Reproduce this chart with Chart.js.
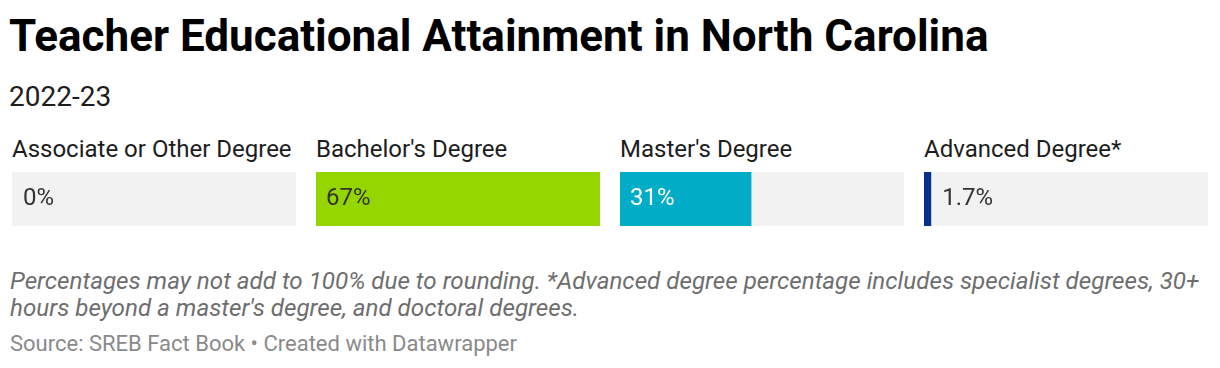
<!DOCTYPE html>
<html>
<head>
<meta charset="utf-8">
<script src="https://cdn.jsdelivr.net/npm/chart.js@4"></script>
<style>
  body { margin: 0; background: #fff; font-family: Roboto, sans-serif; width: 1220px; height: 368px; position: relative; overflow: hidden; }
  .title { position: absolute; left: 9px; top: 10px; font-size: 44px; font-weight: 700; color: #000; white-space: nowrap; }
  .sub { position: absolute; left: 9px; top: 80px; font-size: 28px; color: #1d1d1d; }
  .panel { position: absolute; top: 135px; width: 284px; }
  .panel .lbl { font-size: 24px; color: #1d1d1d; height: 37px; line-height: 28px; white-space: nowrap; }
  .panel canvas { display: block; }
  .notes { position: absolute; left: 10px; top: 268px; font-size: 24.2px; font-style: italic; color: #6e6e6e; line-height: 27px; width: 1208px; }
  .source { position: absolute; left: 10px; top: 331px; font-size: 22px; color: #8a8a8a; }
</style>
</head>
<body>
<div class="title">Teacher Educational Attainment in North Carolina</div>
<div class="sub">2022-23</div>
<div id="panels"></div>
<div class="notes">Percentages may not add to 100% due to rounding. *Advanced degree percentage includes specialist degrees, 30+ hours beyond a master's degree, and doctoral degrees.</div>
<div class="source">Source: SREB Fact Book • Created with Datawrapper</div>
<script>
// Data
const categories = ["Associate or Other Degree", "Bachelor's Degree", "Master's Degree", "Advanced Degree*"];
const values = [0, 67, 31, 1.7];
const valueLabels = ["0%", "67%", "31%", "1.7%"];
const barColors = ["#96d600", "#96d600", "#00acc6", "#05318a"];
const labelColors = ["#333333", "#333333", "#ffffff", "#333333"];

const trackMax = Math.max(...values);
const panelLeft = [12, 316, 620, 924];

// value label inside the bar if it fits, else just after it
const valueLabelPlugin = {
  id: "valueLabel",
  afterDatasetsDraw(chart) {
    const i = chart.options.plugins.valueLabel.index;
    const xs = chart.scales.x;
    const bar = chart.getDatasetMeta(0).data[0];
    const start = xs.getPixelForValue(0);
    const end = xs.getPixelForValue(values[i]);
    const ctx = chart.ctx;
    ctx.save();
    ctx.font = "24px Roboto";
    const tw = ctx.measureText(valueLabels[i]).width;
    let x, color;
    if (end - start > tw + 20) { x = start + 10; color = labelColors[i]; }
    else { x = end + 11; color = "#333333"; }
    ctx.fillStyle = color;
    ctx.textBaseline = "middle";
    ctx.fillText(valueLabels[i], x, bar.y);
    ctx.restore();
  }
};

const container = document.getElementById("panels");
categories.forEach((cat, i) => {
  const panel = document.createElement("div");
  panel.className = "panel";
  panel.style.left = panelLeft[i] + "px";
  const lbl = document.createElement("div");
  lbl.className = "lbl";
  lbl.textContent = cat;
  const canvas = document.createElement("canvas");
  canvas.width = 284;
  canvas.height = 54;
  panel.appendChild(lbl);
  panel.appendChild(canvas);
  container.appendChild(panel);

  new Chart(canvas.getContext("2d"), {
    type: "bar",
    data: {
      labels: [cat],
      datasets: [
        { data: [values[i]], backgroundColor: barColors[i], order: 0 },
        { data: [trackMax], backgroundColor: "#f2f2f2", order: 1 },
      ],
    },
    options: {
      indexAxis: "y",
      responsive: false,
      animation: false,
      devicePixelRatio: 1,
      grouped: false,
      barPercentage: 1,
      categoryPercentage: 1,
      inflateAmount: 0,
      borderWidth: 0,
      layout: { padding: 0 },
      scales: {
        x: { display: false, min: 0, max: trackMax },
        y: { display: false },
      },
      plugins: { legend: { display: false }, tooltip: { enabled: false }, valueLabel: { index: i } },
    },
    plugins: [valueLabelPlugin],
  });
});
</script>
</body>
</html>
